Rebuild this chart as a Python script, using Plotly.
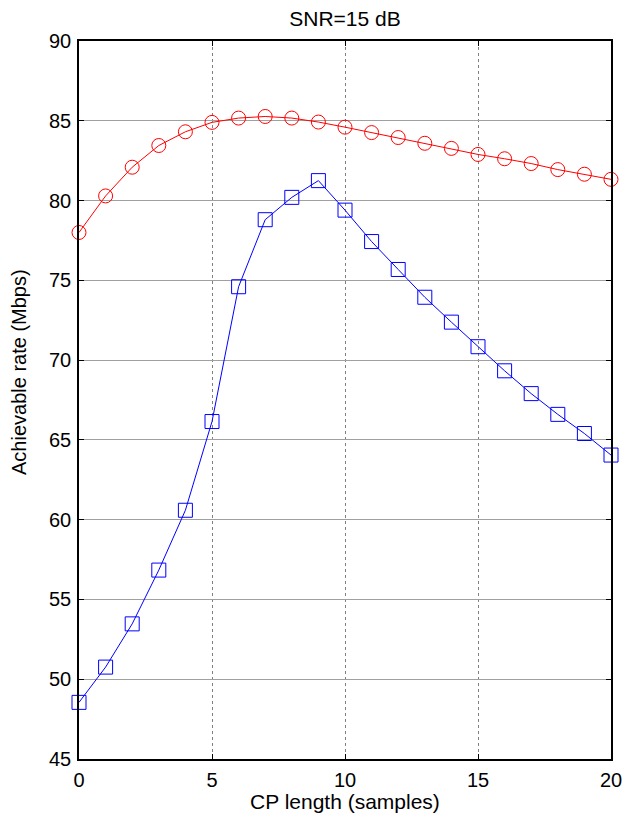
import plotly.graph_objects as go

cp_length = list(range(0, 21))
red_rate = [78.0, 80.29, 82.09, 83.45, 84.31, 84.9, 85.17, 85.27, 85.17, 84.92, 84.6,
            84.26, 83.95, 83.59, 83.27, 82.89, 82.62, 82.32, 81.94, 81.65, 81.33]
blue_rate = [48.55, 50.76, 53.47, 56.84, 60.59, 66.15, 74.6, 78.8, 80.2, 81.25, 79.4,
             77.43, 75.68, 73.94, 72.38, 70.84, 69.33, 67.9, 66.6, 65.4, 64.05]
x_ticks = [0, 5, 10, 15, 20]
y_ticks = [45, 50, 55, 60, 65, 70, 75, 80, 85, 90]

FONT = "Liberation Sans, Arial, sans-serif"
W, H = 623, 814
L, R, T, B = 79, 12, 41, 55
PW, PH = W - L - R, H - T - B

fig = go.Figure()
fig.add_trace(go.Scatter(
    x=cp_length, y=red_rate, mode="lines+markers",
    line=dict(color="#ff0000", width=1),
    marker=dict(symbol="circle-open", size=14, color="#ff0000", line=dict(width=1)),
    showlegend=False, cliponaxis=False))
fig.add_trace(go.Scatter(
    x=cp_length, y=blue_rate, mode="lines+markers",
    line=dict(color="#0000ff", width=1),
    marker=dict(symbol="square-open", size=14, color="#0000ff", line=dict(width=1)),
    showlegend=False, cliponaxis=False))

axis_common = dict(
    showline=True, linecolor="black", linewidth=1.5, mirror="ticks",
    ticks="inside", ticklen=5, tickcolor="black", tickwidth=1,
    tickfont=dict(family=FONT, size=20, color="black"),
    zeroline=False, automargin=False,
)

fig.update_xaxes(range=[0, 20], tickvals=x_ticks, showgrid=True,
                 gridcolor="#808080", griddash="dot", gridwidth=1,
                 ticklabelstandoff=2, **axis_common)
fig.update_yaxes(range=[45, 90], tickvals=y_ticks, showgrid=True,
                 gridcolor="#a0a0a0", gridwidth=1,
                 ticklabelstandoff=2, **axis_common)

fig.add_annotation(text="CP length (samples)", xref="paper", yref="paper",
                   x=0.5, y=(H - B - 801) / PH, xanchor="center", yanchor="middle",
                   showarrow=False, font=dict(family=FONT, size=21, color="black"))
fig.add_annotation(text="Achievable rate (Mbps)", xref="paper", yref="paper",
                   x=(19 - L) / PW, y=(H - B - 372) / PH, xanchor="center", yanchor="middle",
                   textangle=-90, showarrow=False,
                   font=dict(family=FONT, size=20, color="black"))

fig.update_layout(
    width=W, height=H,
    margin=dict(l=L, r=R, t=T, b=B),
    paper_bgcolor="white", plot_bgcolor="white",
    title=dict(text="SNR=15 dB", xref="paper", x=0.5, xanchor="center",
               y=1 - 19 / H, yanchor="middle",
               font=dict(family=FONT, size=21, color="black")),
)

fig.write_html("out.html")
